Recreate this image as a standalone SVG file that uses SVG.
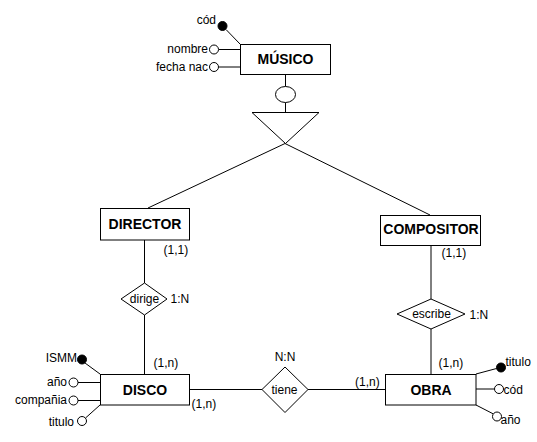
<svg xmlns="http://www.w3.org/2000/svg" width="537" height="442" viewBox="0 0 537 442">
<style>
  .ent { fill: #fff; stroke: #000; stroke-width: 1; }
  .rel { fill: #fff; stroke: #000; stroke-width: 1; }
  .ln { stroke: #000; stroke-width: 1; fill: none; }
  .attr { fill: #fff; stroke: #000; stroke-width: 1; }
  .key { fill: #000; stroke: #000; stroke-width: 1; }
  .et { font-family: "Liberation Sans", Arial, sans-serif; font-size: 14px; font-weight: bold; text-anchor: middle; fill: #000; }
  .t { font-family: "Liberation Sans", Arial, sans-serif; font-size: 12px; fill: #000; }
  .m { text-anchor: middle; }
  .e { text-anchor: end; }
</style>
<rect width="537" height="442" fill="#fff"/>
<g id="connectors">
  <line class="ln" x1="285.5" y1="74" x2="285.5" y2="86.5"/>
  <line class="ln" x1="285.5" y1="102.5" x2="285.5" y2="112"/>
  <line class="ln" x1="285" y1="143.5" x2="148" y2="208"/>
  <line class="ln" x1="285" y1="143.5" x2="430" y2="215"/>
  <line class="ln" x1="144.5" y1="240" x2="144.5" y2="283"/>
  <line class="ln" x1="144.5" y1="315" x2="144.5" y2="374"/>
  <line class="ln" x1="431" y1="245" x2="431" y2="299"/>
  <line class="ln" x1="431" y1="329" x2="431" y2="374"/>
  <line class="ln" x1="190" y1="389.5" x2="262" y2="389.5"/>
  <line class="ln" x1="308" y1="389.5" x2="385" y2="389.5"/>
</g>
<g id="musico">
  <line class="ln" x1="226" y1="29.5" x2="240" y2="44"/>
  <line class="ln" x1="219" y1="49.5" x2="240" y2="49.5"/>
  <line class="ln" x1="219" y1="67" x2="240" y2="67"/>
  <circle class="key" cx="222.5" cy="26" r="4.5"/>
  <circle class="attr" cx="214" cy="49.5" r="4.5"/>
  <circle class="attr" cx="214" cy="67" r="4.5"/>
  <text class="t e" x="216" y="24">cód</text>
  <text class="t e" x="208" y="53">nombre</text>
  <text class="t e" x="208" y="71">fecha nac</text>
  <rect class="ent" x="240.5" y="44.5" width="90" height="30"/>
  <text class="et" x="285.5" y="64">MÚSICO</text>
</g>
<g id="isa">
  <ellipse class="attr" cx="285.5" cy="94.5" rx="10" ry="8"/>
  <polygon class="ln" points="252,112.5 319,112.5 285.5,143.5"/>
</g>
<g id="director">
  <rect class="ent" x="100.5" y="208.5" width="89" height="31.5"/>
  <text class="et" x="145" y="229">DIRECTOR</text>
  <text class="t" x="163.5" y="254">(1,1)</text>
</g>
<g id="compositor">
  <rect class="ent" x="380.5" y="215.5" width="100" height="30"/>
  <text class="et" x="431" y="234">COMPOSITOR</text>
  <text class="t" x="441.5" y="257">(1,1)</text>
</g>
<g id="dirige">
  <polygon class="rel" points="144.5,283 167,299 144.5,315 121,299"/>
  <text class="t m" x="144.5" y="302.5">dirige</text>
  <text class="t" x="170.5" y="303">1:N</text>
</g>
<g id="escribe">
  <polygon class="rel" points="431,299 465,314 431,329 397,314"/>
  <text class="t m" x="431.5" y="318">escribe</text>
  <text class="t" x="469.5" y="318.5">1:N</text>
</g>
<g id="disco">
  <line class="ln" x1="85" y1="363" x2="100" y2="374"/>
  <line class="ln" x1="78" y1="382.5" x2="100" y2="382.5"/>
  <line class="ln" x1="78" y1="400.5" x2="100" y2="400.5"/>
  <line class="ln" x1="85.5" y1="418" x2="100" y2="405"/>
  <circle class="key" cx="82" cy="359.5" r="4.5"/>
  <circle class="attr" cx="73.5" cy="382.5" r="4.5"/>
  <circle class="attr" cx="73.5" cy="400.5" r="4.5"/>
  <circle class="attr" cx="82" cy="421" r="4.5"/>
  <text class="t e" x="77" y="361.5">ISMM</text>
  <text class="t e" x="67" y="386">año</text>
  <text class="t e" x="67" y="404">compañia</text>
  <text class="t e" x="74" y="426">titulo</text>
  <rect class="ent" x="100.5" y="374.5" width="89" height="30.5"/>
  <text class="et" x="145" y="394.5">DISCO</text>
  <text class="t" x="153.5" y="367">(1,n)</text>
  <text class="t" x="191.5" y="408">(1,n)</text>
</g>
<g id="tiene">
  <polygon class="rel" points="285,367 308,389.5 285,412.5 262,389.5"/>
  <text class="t m" x="284.5" y="394">tiene</text>
  <text class="t m" x="285" y="361">N:N</text>
  <text class="t" x="355" y="386">(1,n)</text>
</g>
<g id="obra">
  <line class="ln" x1="476" y1="374" x2="496.5" y2="368.5"/>
  <line class="ln" x1="476" y1="389" x2="494.5" y2="389"/>
  <line class="ln" x1="476" y1="405" x2="493.5" y2="414"/>
  <circle class="key" cx="501" cy="367.5" r="4.5"/>
  <circle class="attr" cx="499" cy="389" r="4.5"/>
  <circle class="attr" cx="497" cy="416.5" r="4.5"/>
  <text class="t" x="505.5" y="366">titulo</text>
  <text class="t" x="503.5" y="393.5">cód</text>
  <text class="t" x="500.5" y="423.5">año</text>
  <rect class="ent" x="385.5" y="374.5" width="90.5" height="30.5"/>
  <text class="et" x="431" y="394.5">OBRA</text>
  <text class="t" x="438.5" y="367">(1,n)</text>
</g>
</svg>
